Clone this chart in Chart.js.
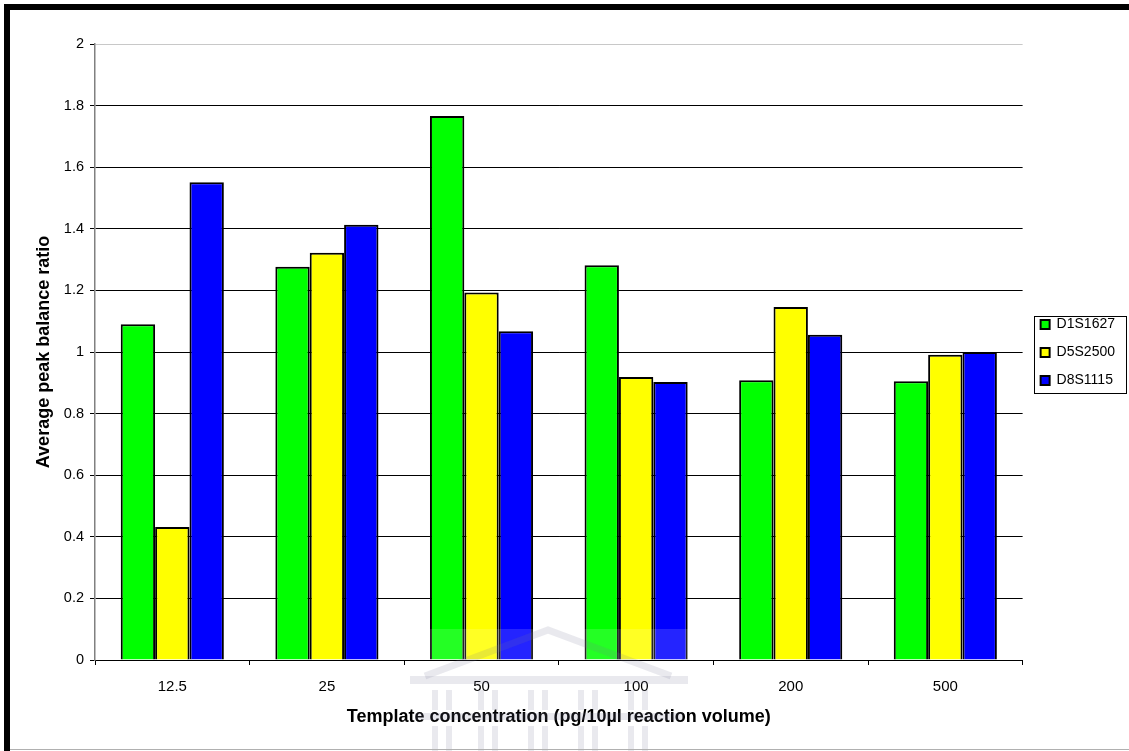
<!DOCTYPE html>
<html>
<head>
<meta charset="utf-8">
<script src="https://cdn.jsdelivr.net/npm/chart.js@4.4.1/dist/chart.umd.min.js"></script>
<style>
  html, body { margin: 0; padding: 0; background: #ffffff; }
  #wrap { position: relative; width: 1129px; height: 751px; }
</style>
</head>
<body>
<div id="wrap"><canvas id="c" width="1129" height="751"></canvas></div>
<script>
// Template concentrations (pg per 10 µl reaction)
const categories = ['12.5', '25', '50', '100', '200', '500'];

// Average peak balance ratio per locus
const d1s1627 = [1.09, 1.277, 1.766, 1.282, 0.908, 0.905];
const d5s2500 = [0.432, 1.322, 1.193, 0.919, 1.146, 0.991];
const d8s1115 = [1.551, 1.413, 1.067, 0.903, 1.056, 1.0];

const seriesNames = ['D1S1627', 'D5S2500', 'D8S1115'];
const seriesColors = ['#00ff00', '#ffff00', '#0000ff'];

const yTicks = [0, 0.2, 0.4, 0.6, 0.8, 1, 1.2, 1.4, 1.6, 1.8, 2];

const FONT = '"Liberation Sans", Arial, sans-serif';

// faint building emblem stamped at the bottom of the page
function drawEmblem(ctx) {
  ctx.save();
  ctx.fillStyle = 'rgba(120,120,150,0.16)';
  ctx.strokeStyle = 'rgba(120,120,150,0.16)';
  // lightened band across the base of the bars
  ctx.fillStyle = 'rgba(255,255,255,0.14)';
  ctx.fillRect(408, 629, 285, 31);
  ctx.fillStyle = 'rgba(120,120,150,0.16)';
  // roof
  ctx.lineWidth = 7;
  ctx.beginPath();
  ctx.moveTo(425, 676);
  ctx.lineTo(548, 630);
  ctx.lineTo(671, 676);
  ctx.stroke();
  // entablature
  ctx.fillRect(410, 676, 278, 8);
  ctx.fillRect(415, 713, 268, 7);
  // columns, two tiers
  const cols = [432, 446, 478, 492, 528, 542, 578, 592, 628, 642];
  cols.forEach(x => {
    ctx.fillRect(x, 690, 6, 20);
    ctx.fillRect(x, 726, 6, 25);
  });
  ctx.restore();
}

// Page frame, legend placement and legend outline
const framePlugin = {
  id: 'frame',
  afterLayout(chart) {
    const lg = chart.legend;
    if (!lg) return;
    // keep the legend a little right of the plot and centred on the value axis
    const h = lg.bottom - lg.top;
    lg.left = chart.chartArea.right + 4;
    lg.right = lg.left + lg.width;
    lg.top = Math.round((704 - h) / 2);
    lg.bottom = lg.top + h;
  },
  beforeDraw(chart) {
    const ctx = chart.ctx;
    ctx.save();
    ctx.fillStyle = '#ffffff';
    ctx.fillRect(0, 0, chart.width, chart.height);
    ctx.restore();
  },
  afterDraw(chart) {
    const ctx = chart.ctx;
    drawEmblem(ctx);
    ctx.save();
    ctx.fillStyle = '#000000';
    ctx.fillRect(4, 4, chart.width - 4, 6);
    ctx.fillRect(4, 4, 6, chart.height - 4);
    ctx.fillStyle = '#b0b0b0';
    ctx.fillRect(10, 749, chart.width - 10, 1);
    // legend border
    const lg = chart.legend;
    if (lg && lg.legendHitBoxes && lg.legendHitBoxes.length) {
      const hb = lg.legendHitBoxes;
      const first = hb[0], last = hb[hb.length - 1];
      const x0 = first.left - 7;
      const y0 = first.top - 2;
      const w = Math.max(...hb.map(b => b.left + b.width)) + 11 - x0;
      const h = last.top + last.height + 5 - y0;
      ctx.strokeStyle = '#000000';
      ctx.lineWidth = 1;
      ctx.strokeRect(Math.round(x0) + 0.5, Math.round(y0) + 0.5, Math.round(w), Math.round(h));
    }
    ctx.restore();
  }
};

const seriesData = [d1s1627, d5s2500, d8s1115];

new Chart(document.getElementById('c'), {
  type: 'bar',
  data: {
    labels: categories,
    datasets: seriesNames.map((name, i) => ({
      label: name,
      data: seriesData[i],
      backgroundColor: seriesColors[i],
      borderColor: '#000000',
      borderWidth: 2,
      categoryPercentage: 0.667,
      barPercentage: 1.0
    }))
  },
  options: {
    responsive: false,
    animation: false,
    devicePixelRatio: 1,
    layout: { padding: { left: 10, top: 44, right: 8, bottom: 0 } },
    plugins: {
      tooltip: { enabled: false },
      legend: {
        position: 'right',
        align: 'center',
        labels: {
          boxWidth: 9,
          boxHeight: 9,
          padding: 14,
          color: '#000000',
          font: { family: FONT, size: 14 }
        }
      }
    },
    scales: {
      x: {
        offset: true,
        afterFit(scale) { scale.height = 91; },
        grid: {
          display: true,
          offset: true,
          drawOnChartArea: false,
          drawTicks: true,
          tickLength: 5,
          tickColor: '#000000'
        },
        border: { display: true, color: '#000000', width: 1 },
        ticks: {
          color: '#000000',
          padding: 13,
          font: { family: FONT, size: 15 }
        },
        title: {
          display: true,
          text: 'Template concentration (pg/10µl reaction volume)',
          color: '#000000',
          font: { family: FONT, size: 18, weight: 'bold' },
          padding: { top: 0, bottom: 23 }
        }
      },
      y: {
        min: 0,
        max: 2,
        afterFit(scale) { scale.width = 85; },
        afterBuildTicks(scale) { scale.ticks = yTicks.map(v => ({ value: v })); },
        grid: {
          color: (c) => (c.tick && c.tick.value === 2) ? '#c8c8c8' : '#000000',
          tickColor: '#000000',
          tickLength: 5,
          lineWidth: 1
        },
        border: { display: true, color: '#808080', width: 1.5 },
        ticks: {
          color: '#000000',
          padding: 6,
          font: { family: FONT, size: 14.5 },
          callback: (v) => String(Math.round(v * 10) / 10)
        },
        title: {
          display: true,
          text: 'Average peak balance ratio',
          color: '#000000',
          font: { family: FONT, size: 18, weight: 'bold' },
          padding: { top: 23, bottom: 0 }
        }
      }
    }
  },
  plugins: [framePlugin]
});
</script>
</body>
</html>
